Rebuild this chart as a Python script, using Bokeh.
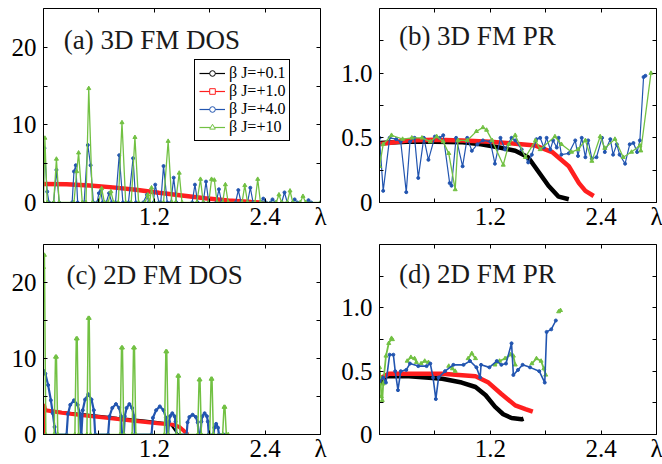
import numpy as np
from bokeh.plotting import figure
from bokeh.models import Range1d, FixedTicker, LinearAxis, Label, Legend, LegendItem, ColumnDataSource
from bokeh.layouts import column, row
from bokeh.embed import file_html
from bokeh.resources import INLINE

SERIF = "Liberation Serif"
BLACK = "#000000"
RED = "#ff1f1f"
BLUE = "#2255b0"
GREEN = "#72c143"

# ---------------- axis ticks ----------------
x_major = [1.2, 2.4, 3.0]
x_major_labels = ["1.2", "2.4", "λ"]
x_minor = [0.6, 1.8]
dos_major = [0, 10, 20]
dos_minor = [5, 15]
pr_major = [0, 0.5, 1.0]
pr_major_labels = ["0", "0.5", "1.0"]
pr_minor = [0.25, 0.75, 1.25]

series_names = ["β J=+0.1", "β J=+1.0", "β J=+4.0", "β J=+10"]
titles = ["(a) 3D FM DOS", "(b) 3D FM PR", "(c) 2D FM DOS", "(d) 2D FM PR"]

# ---------------- (a) 3D FM DOS ----------------
a_black_x = [0.0, 0.25, 0.5, 0.75, 1.0, 1.25, 1.5, 1.75, 1.9, 2.05, 2.2, 2.4]
a_black_y = [2.45, 2.4, 2.25, 2.0, 1.7, 1.3, 0.9, 0.5, 0.28, 0.12, 0.04, 0.0]
a_red_x = [0.0, 0.25, 0.5, 0.75, 1.0, 1.25, 1.5, 1.75, 2.0, 2.25, 2.35]
a_red_y = [2.4, 2.35, 2.2, 1.95, 1.65, 1.25, 0.9, 0.55, 0.25, 0.06, 0.0]
a_blue_x = [0.0, 0.01, 0.04, 0.06, 0.11, 0.14, 0.17, 0.31, 0.33, 0.35, 0.37,
            0.44, 0.48, 0.51, 0.54, 0.58, 0.60, 0.62, 0.64, 0.68, 0.71, 0.74,
            0.78, 0.82, 0.86, 0.92, 0.97, 1.00, 1.08, 1.12, 1.14, 1.19, 1.21, 1.25,
            1.27, 1.30, 1.34, 1.38, 1.41, 1.44, 1.61, 1.64, 1.67, 1.73, 1.76, 1.79,
            1.87, 1.90, 1.93, 2.08, 2.11, 2.14, 2.21, 2.24, 2.27, 2.35, 2.38, 2.41,
            2.46, 2.48, 2.51, 2.58, 2.61, 2.64, 2.70, 2.72, 2.75, 2.85, 2.87, 2.90, 3.0]
a_blue_y = [7.0, 7.0, 1.4, 0, 0, 4.2, 0, 0, 4.0, 4.8, 0,
            0, 7.4, 4.8, 0, 0, 1.2, 1.5, 0, 0, 1.2, 0,
            0, 6.1, 0, 0, 5.7, 0, 0, 1.0, 0, 0, 2.3, 0,
            0, 4.7, 0, 0, 3.2, 0, 0, 2.3, 0, 0, 2.7, 0,
            0, 1.7, 0, 0, 1.6, 0, 0, 1.9, 0, 0, 0.5, 0,
            0, 0.4, 0, 0, 1.3, 0, 0, 0.4, 0, 0, 0.3, 0, 0]
a_green_x = [0.0, 0.015, 0.04, 0.11, 0.14, 0.17, 0.33, 0.36, 0.38, 0.42,
             0.46, 0.49, 0.53, 0.60, 0.63, 0.66, 0.70, 0.73, 0.76, 0.81, 0.85, 0.89,
             0.95, 0.99, 1.03, 1.10, 1.13, 1.15, 1.17, 1.20, 1.30, 1.35, 1.39,
             1.43, 1.47, 1.50, 1.66, 1.70, 1.73, 1.79, 1.82, 1.85, 1.88,
             1.94, 1.97, 2.00, 2.15, 2.18, 2.21, 2.29, 2.32, 2.35, 2.52, 2.55, 2.58,
             2.64, 2.67, 2.70, 2.78, 2.81, 2.84, 3.0]
a_green_y = [0, 8.3, 0, 0, 5.6, 0, 0, 4.0, 6.4, 0,
             0, 14.7, 0, 0, 1.8, 0, 0, 1.4, 0, 0, 10.3, 0,
             0, 8.4, 0, 0, 1.0, 0, 1.9, 0, 0, 7.9, 0,
             0, 3.8, 0, 0, 3.0, 0, 0, 3.0, 2.9, 0,
             0, 2.3, 0, 0, 2.2, 0, 0, 3.0, 0, 0, 1.0, 0,
             0, 1.5, 0, 0, 0.8, 0, 0]

# ---------------- (b) 3D FM PR ----------------
b_black_x = [0.0, 0.3, 0.6, 0.9, 1.1, 1.3, 1.47, 1.61, 1.72, 1.83, 1.94, 2.05]
b_black_y = [0.46, 0.47, 0.47, 0.465, 0.45, 0.425, 0.40, 0.35, 0.24, 0.13, 0.045, 0.025]
b_red_x = [0.0, 0.3, 0.6, 0.9, 1.2, 1.47, 1.69, 1.87, 2.05, 2.16, 2.23, 2.32]
b_red_y = [0.45, 0.48, 0.485, 0.48, 0.47, 0.455, 0.44, 0.39, 0.28, 0.15, 0.09, 0.05]
b_blue_x = [0.0, 0.04, 0.11, 0.18, 0.23, 0.29, 0.33, 0.38, 0.42, 0.48, 0.53, 0.60,
            0.65, 0.69, 0.76, 0.78, 0.83, 0.90, 0.95, 1.00, 1.06, 1.12, 1.20, 1.25,
            1.31, 1.36, 1.43, 1.47, 1.54, 1.61, 1.65, 1.70, 1.74, 1.78, 1.81, 1.85,
            1.88, 1.92, 1.94, 1.97, 2.05, 2.12, 2.15, 2.19, 2.23, 2.26, 2.30, 2.35,
            2.41, 2.44, 2.50, 2.53, 2.57, 2.60, 2.66, 2.71, 2.75, 2.79, 2.82, 2.86, 2.88]
b_blue_y = [0.50, 0.09, 0.50, 0.49, 0.47, 0.08, 0.47, 0.50, 0.19, 0.50, 0.33, 0.51,
            0.50, 0.52, 0.15, 0.13, 0.50, 0.28, 0.50, 0.40, 0.45, 0.48, 0.47, 0.30,
            0.50, 0.41, 0.50, 0.48, 0.41, 0.31, 0.37, 0.49, 0.50, 0.425, 0.50, 0.41,
            0.48, 0.425, 0.50, 0.37, 0.38, 0.48, 0.36, 0.50, 0.35, 0.48, 0.34, 0.35,
            0.50, 0.39, 0.49, 0.37, 0.45, 0.37, 0.30, 0.45, 0.46, 0.39, 0.48, 0.97, 0.98]
b_green_x = [0.0, 0.04, 0.13, 0.25, 0.35, 0.46, 0.55, 0.62, 0.69, 0.75,
             0.82, 0.85, 0.95, 1.05, 1.12, 1.16, 1.22, 1.34, 1.40, 1.47,
             1.58, 1.69, 1.74, 1.90, 1.97, 2.08, 2.15, 2.23, 2.30, 2.39,
             2.44, 2.55, 2.64, 2.73, 2.82, 2.83, 2.94]
b_green_y = [0.28, 0.45, 0.52, 0.49, 0.50, 0.50, 0.47, 0.51, 0.47, 0.38,
             0.10, 0.48, 0.48, 0.55, 0.58, 0.56, 0.48, 0.29, 0.45, 0.52,
             0.35, 0.48, 0.41, 0.51, 0.45, 0.39, 0.41, 0.48, 0.32, 0.51,
             0.42, 0.49, 0.35, 0.39, 0.44, 0.40, 1.00]

# ---------------- (c) 2D FM DOS ----------------
c_black_x = [0.0, 0.2, 0.5, 0.8, 1.1, 1.3, 1.38, 1.42, 1.45, 1.47]
c_black_y = [3.3, 2.95, 2.6, 2.2, 1.85, 1.55, 1.3, 0.6, 0.1, 0.0]
c_red_x = [0.0, 0.003, 0.02, 0.2, 0.4, 0.68, 0.97, 1.26, 1.40, 1.47, 1.51, 1.55, 1.57]
c_red_y = [0.0, 4.0, 3.2, 2.85, 2.55, 2.2, 1.8, 1.45, 1.3, 1.0, 0.6, 0.1, 0.0]
c_blue_x = [0.0, 0.02, 0.05, 0.08, 0.10, 0.12, 0.13,
            0.25, 0.265, 0.29, 0.33, 0.37, 0.395, 0.405,
            0.41, 0.425, 0.45, 0.485, 0.52, 0.545, 0.56,
            0.70, 0.715, 0.745, 0.785, 0.82, 0.84, 0.85,
            0.87, 0.88, 0.90, 0.93, 0.96, 0.98, 0.99,
            1.17, 1.185, 1.22, 1.26, 1.30, 1.325, 1.34,
            1.35, 1.36, 1.37, 1.395, 1.42, 1.43, 1.44,
            1.55, 1.56, 1.58, 1.615, 1.65, 1.67, 1.68,
            1.70, 1.71, 1.72, 1.745, 1.77, 1.78, 1.79,
            1.84, 1.85, 1.87, 1.89, 1.90, 1.95]
c_blue_y = [8.4, 8.0, 6.5, 4.5, 2.8, 1.0, 0.0,
            0, 2.7, 3.9, 4.5, 3.9, 2.7, 0,
            0, 3.2, 4.6, 5.3, 4.6, 3.2, 0,
            0, 2.4, 3.5, 4.0, 3.5, 2.4, 0,
            0, 2.4, 3.5, 4.0, 3.5, 2.4, 0,
            0, 2.2, 3.2, 3.7, 3.2, 2.2, 0,
            0, 1.7, 2.4, 2.8, 2.4, 1.7, 0,
            0, 1.6, 2.3, 2.6, 2.3, 1.6, 0,
            0, 1.7, 2.4, 2.8, 2.4, 1.7, 0,
            0, 0.9, 1.4, 0.9, 0, 0]
c_green_x = [0.0, 0.01, 0.025,
             0.115, 0.13, 0.14, 0.155,
             0.34, 0.355, 0.365, 0.38,
             0.47, 0.485, 0.495, 0.51,
             0.83, 0.845, 0.855, 0.87,
             0.96, 0.975, 0.985, 1.0,
             1.31, 1.325, 1.335, 1.35,
             1.44, 1.455, 1.465, 1.48,
             1.67, 1.685, 1.695, 1.71,
             1.80, 1.815, 1.825, 1.84,
             1.94, 1.955, 1.965, 1.98,
             2.0]
c_green_y = [22.0, 23.6, 0.0,
             0, 10.2, 10.2, 0,
             0, 12.6, 12.6, 0,
             0, 15.3, 15.3, 0,
             0, 11.4, 11.4, 0,
             0, 11.4, 11.4, 0,
             0, 10.9, 10.9, 0,
             0, 7.7, 7.7, 0,
             0, 7.2, 7.2, 0,
             0, 7.3, 7.3, 0,
             0, 3.6, 3.6, 0,
             0]

# ---------------- (d) 2D FM PR ----------------
d_black_x = [0.0, 0.065, 0.32, 0.68, 0.89, 1.04, 1.15, 1.25, 1.34, 1.43, 1.54, 1.56]
d_black_y = [0.40, 0.46, 0.46, 0.44, 0.41, 0.375, 0.31, 0.22, 0.16, 0.13, 0.12, 0.125]
d_red_x = [0.0, 0.1, 0.68, 1.04, 1.18, 1.32, 1.47, 1.58, 1.66]
d_red_y = [0.44, 0.48, 0.48, 0.46, 0.41, 0.32, 0.23, 0.20, 0.18]
d_blue_x = [0.0, 0.04, 0.07, 0.11, 0.15, 0.17, 0.20, 0.23, 0.29, 0.33,
            0.42, 0.51, 0.55, 0.58, 0.61, 0.64, 0.71, 0.80, 0.91, 0.98,
            1.05, 1.09, 1.10, 1.19, 1.27, 1.32, 1.37, 1.43, 1.45, 1.50,
            1.55, 1.63, 1.73, 1.79, 1.81, 1.86, 1.91]
d_blue_y = [0.42, 0.45, 0.41, 0.63, 0.63, 0.50, 0.35, 0.50, 0.51, 0.56,
            0.54, 0.54, 0.56, 0.45, 0.28, 0.45, 0.50, 0.55, 0.55, 0.58,
            0.53, 0.45, 0.55, 0.53, 0.58, 0.55, 0.56, 0.72, 0.47, 0.51,
            0.55, 0.53, 0.50, 0.41, 0.81, 0.83, 0.90]
d_green_x = [0.0, 0.01, 0.02, 0.03, 0.04, 0.07, 0.10, 0.13, 0.14, np.nan,
             0.30, 0.34, 0.38, 0.40, np.nan,
             0.45, 0.49, 0.53, np.nan,
             0.75, 0.79, 0.82, np.nan,
             0.96, 1.00, 1.04, np.nan,
             1.25, 1.30, 1.36, 1.42, 1.45, 1.47, np.nan,
             1.65, 1.70, 1.75, 1.78, 1.80, np.nan,
             1.94, 1.96]
d_green_y = [0.53, 0.45, 0.30, 0.27, 0.40, 0.62, 0.72, 0.76, 0.75, np.nan,
             0.58, 0.61, 0.60, 0.57, np.nan,
             0.56, 0.58, 0.57, np.nan,
             0.54, 0.52, 0.50, np.nan,
             0.60, 0.64, 0.60, np.nan,
             0.55, 0.58, 0.60, 0.63, 0.62, 0.55, np.nan,
             0.56, 0.60, 0.58, 0.52, 0.47, np.nan,
             0.97, 0.98]


def style_ticks(ax):
    ax.major_tick_in = 4
    ax.major_tick_out = 0
    ax.minor_tick_in = 4
    ax.minor_tick_out = 0
    ax.major_tick_line_color = "black"
    ax.minor_tick_line_color = "black"


def make_fig(ymax, ymajor, ylabels, yminor, borders):
    l, r, t, b = borders
    p = figure(width=331, height=232, x_range=Range1d(0, 3), y_range=Range1d(0, ymax),
               tools="", toolbar_location=None, output_backend="svg",
               min_border_left=l, min_border_right=r, min_border_top=t, min_border_bottom=b)
    p.xgrid.visible = False
    p.ygrid.visible = False
    p.outline_line_color = "black"
    p.outline_line_width = 1
    p.outline_line_alpha = 1
    p.background_fill_color = "white"
    p.border_fill_color = "white"

    xa = p.below[0]
    xa.ticker = FixedTicker(ticks=x_major, minor_ticks=x_minor)
    xa.major_label_overrides = dict(zip(x_major, x_major_labels))
    ya = p.left[0]
    ya.ticker = FixedTicker(ticks=ymajor, minor_ticks=yminor)
    ya.major_label_overrides = dict(zip(ymajor, ylabels))
    for ax in (xa, ya):
        style_ticks(ax)
        ax.axis_line_color = "black"
        ax.major_label_text_font = SERIF
        ax.major_label_text_font_size = "25px"
        ax.major_label_text_color = "black"
    xa.major_label_standoff = 0
    ya.major_label_standoff = 7

    # top / right: tick marks only (all as minor ticks, so no labels are drawn)
    top = LinearAxis(ticker=FixedTicker(ticks=[], minor_ticks=x_minor + x_major),
                     axis_line_color=None, major_label_standoff=0)
    right = LinearAxis(ticker=FixedTicker(ticks=[], minor_ticks=yminor + ymajor),
                       axis_line_color=None, major_label_standoff=0)
    style_ticks(top)
    style_ticks(right)
    p.add_layout(top, "above")
    p.add_layout(right, "right")
    return p


def add_title(p, text, x, y):
    p.add_layout(Label(x=x, y=y, text=text, text_font=SERIF, text_font_size="27px",
                       text_baseline="alphabetic", text_color="#1a1a1a"))


# ---- panel (a)
pa = make_fig(25, dos_major, ["0", "10", "20"], dos_minor, (43, 11, 8, 29))
pa.line(a_black_x, a_black_y, color=BLACK, line_width=2)
pa.line(a_red_x, a_red_y, color=RED, line_width=4.5)
pa.line(a_blue_x, a_blue_y, color=BLUE, line_width=1.2)
pa.scatter(a_blue_x, a_blue_y, marker="circle", size=3, color=BLUE)
pa.line(a_green_x, a_green_y, color=GREEN, line_width=1.3)
pa.scatter(a_green_x, a_green_y, marker="triangle", size=4, color=GREEN)
add_title(pa, titles[0], 0.22, 21.0)

leg_items = []
for name, col, mk in zip(series_names, [BLACK, RED, BLUE, GREEN],
                         ["circle", "square", "circle", "triangle"]):
    src = ColumnDataSource(dict(x=[np.nan], y=[np.nan]))
    lr = pa.line("x", "y", source=src, color=col, line_width=1.2)
    sr = pa.scatter("x", "y", source=src, marker=mk, size=5, line_color=col,
                    fill_color="white", line_width=1)
    leg_items.append(LegendItem(label=name, renderers=[lr, sr]))
legend = Legend(items=leg_items, location=(151, 61), orientation="vertical",
                border_line_color="black", border_line_width=1, border_line_alpha=1,
                background_fill_color="white", background_fill_alpha=1,
                padding=4, spacing=0, margin=0,
                label_text_font=SERIF, label_text_font_size="16px", label_text_color="black",
                label_height=14, glyph_height=14, glyph_width=26, label_standoff=4)
pa.add_layout(legend)

# ---- panel (b)
pb = make_fig(1.5, pr_major, pr_major_labels, pr_minor, (48, 6, 8, 30))
pb.line(b_black_x, b_black_y, color=BLACK, line_width=4.5)
pb.line(b_red_x, b_red_y, color=RED, line_width=4.5)
pb.line(b_blue_x, b_blue_y, color=BLUE, line_width=1.2)
pb.scatter(b_blue_x, b_blue_y, marker="circle", size=3, color=BLUE)
pb.line(b_green_x, b_green_y, color=GREEN, line_width=1.3)
pb.scatter(b_green_x, b_green_y, marker="triangle", size=4, color=GREEN)
add_title(pb, titles[1], 0.21, 1.285)

# ---- panel (c)
pc = make_fig(25, dos_major, ["0", "10", "20"], dos_minor, (43, 11, 12, 27))
pc.line(c_black_x, c_black_y, color=BLACK, line_width=2)
pc.line(c_red_x, c_red_y, color=RED, line_width=4)
pc.line(c_blue_x, c_blue_y, color=BLUE, line_width=2.2)
pc.scatter(c_blue_x, c_blue_y, marker="circle", size=3, color=BLUE)
pc.line(c_green_x, c_green_y, color=GREEN, line_width=1.5)
pc.scatter(c_green_x, c_green_y, marker="triangle", size=4, color=GREEN)
add_title(pc, titles[2], 0.25, 21.0)

# ---- panel (d)
pd_ = make_fig(1.5, pr_major, pr_major_labels, pr_minor, (48, 6, 10, 27))
pd_.line(d_black_x, d_black_y, color=BLACK, line_width=4.5)
pd_.line(d_red_x, d_red_y, color=RED, line_width=4.5)
pd_.line(d_green_x, d_green_y, color=GREEN, line_width=1.8)
pd_.scatter(d_green_x, d_green_y, marker="triangle", size=4, color=GREEN)
pd_.line(d_blue_x, d_blue_y, color=BLUE, line_width=1.6)
pd_.scatter(d_blue_x, d_blue_y, marker="circle", size=3, color=BLUE)
add_title(pd_, titles[3], 0.21, 1.27)

layout = column(row(pa, pb, spacing=0), row(pc, pd_, spacing=0), spacing=0)
open("out.html", "w").write(file_html(layout, INLINE))
